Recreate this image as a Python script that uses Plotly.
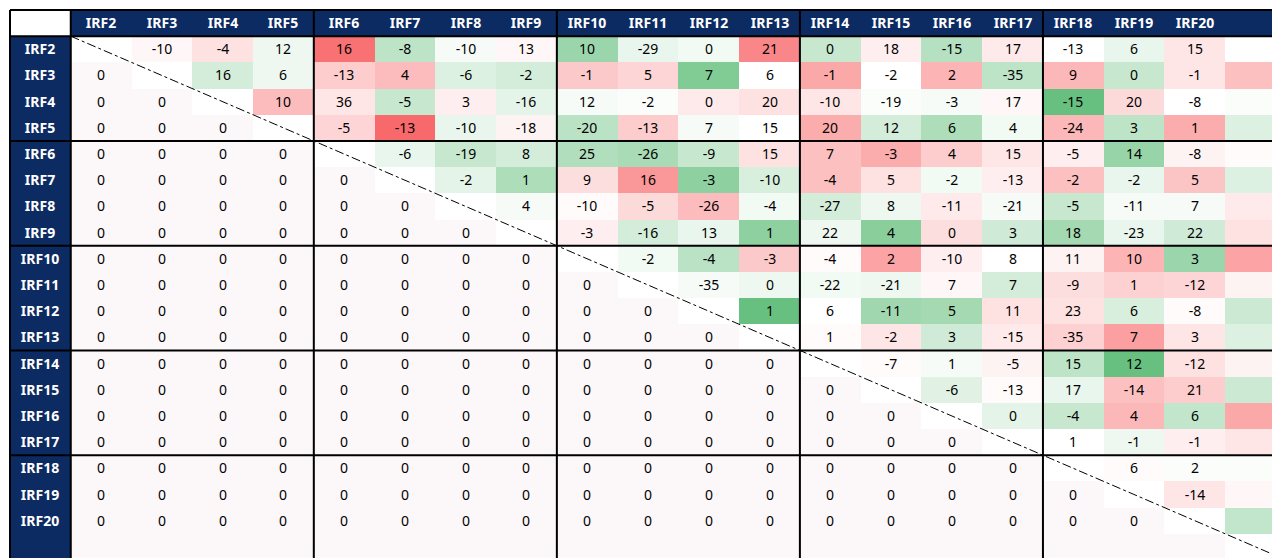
import plotly.graph_objects as go

names = [f"IRF{i}" for i in range(1, 21)]

# upper-triangle values, row i holds columns i+1..20
upper = [
    [2, 7, -4, 34, -15, -2, 2, -23, -5, -3, 29, -13, 4, -17, 5, 0, -5, 6, 0],
    [-10, -4, 12, 16, -8, -10, 13, 10, -29, 0, 21, 0, 18, -15, 17, -13, 6, 15],
    [16, 6, -13, 4, -6, -2, -1, 5, 7, 6, -1, -2, 2, -35, 9, 0, -1],
    [10, 36, -5, 3, -16, 12, -2, 0, 20, -10, -19, -3, 17, -15, 20, -8],
    [-5, -13, -10, -18, -20, -13, 7, 15, 20, 12, 6, 4, -24, 3, 1],
    [-6, -19, 8, 25, -26, -9, 15, 7, -3, 4, 15, -5, 14, -8],
    [-2, 1, 9, 16, -3, -10, -4, 5, -2, -13, -2, -2, 5],
    [4, -10, -5, -26, -4, -27, 8, -11, -21, -5, -11, 7],
    [-3, -16, 13, 1, 22, 4, 0, 3, 18, -23, 22],
    [-2, -4, -3, -4, 2, -10, 8, 11, 10, 3],
    [-35, 0, -22, -21, 7, 7, -9, 1, -12],
    [1, 6, -11, 5, 11, 23, 6, -8],
    [1, -2, 3, -15, -35, 7, 3],
    [-7, 1, -5, 15, 12, -12],
    [-6, -13, 17, -14, 21],
    [0, -4, 4, 6],
    [1, -1, -1],
    [6, 2],
    [-14],
]

n = len(names)
zu = [[None] * n for _ in range(n)]
tu = [[""] * n for _ in range(n)]
zl = [[None] * n for _ in range(n)]
tl = [[""] * n for _ in range(n)]
for i, row in enumerate(upper):
    for k, v in enumerate(row):
        zu[i][i + 1 + k] = v
        tu[i][i + 1 + k] = str(v)
for i in range(n):
    for j in range(i):
        zl[i][j] = 0
        tl[i][j] = "0"

font = dict(family="Noto Sans", size=14, color="black")
fig = go.Figure()
fig.add_trace(go.Heatmap(
    x=names, y=names, z=zl, text=tl, colorscale=[[0, "#FCF7F9"], [1, "#FCF7F9"]],
    showscale=False, texttemplate="%{text}", textfont=font, hoverinfo="skip"))
fig.add_trace(go.Heatmap(
    x=names, y=names, z=zu, text=tu, zmin=-36, zmax=36, zmid=0,
    colorscale=[[0, "#63BE7B"], [0.5, "#FFFFFF"], [1, "#F8696B"]],
    showscale=False, texttemplate="%{text}", textfont=font))

navy = "#0D2B63"
hfont = dict(family="Noto Sans", size=14, color="white", weight="bold")
fig.add_trace(go.Heatmap(
    x=names, y=["hdr"], z=[[1] * n], text=[names], texttemplate="%{text}",
    colorscale=[[0, navy], [1, navy]], showscale=False, textfont=hfont, hoverinfo="skip"))
fig.add_trace(go.Heatmap(
    x=["hdr"], y=names, z=[[1] for _ in names], text=[[s] for s in names], texttemplate="%{text}",
    colorscale=[[0, navy], [1, navy]], showscale=False, textfont=hfont, hoverinfo="skip"))

cats = ["hdr"] + names
shapes = []
# thick block borders
for b in range(0, n + 1, 4):
    shapes.append(dict(type="line", xref="x", yref="paper", x0=b + 0.5, x1=b + 0.5, y0=0, y1=1,
                       line=dict(color="black", width=2)))
    shapes.append(dict(type="line", xref="paper", yref="y", y0=b + 0.5, y1=b + 0.5, x0=0, x1=1,
                       line=dict(color="black", width=2)))
for p in (0, 1):
    shapes.append(dict(type="line", xref="paper", yref="paper", x0=0, x1=1, y0=p, y1=p,
                       line=dict(color="black", width=2)))
    shapes.append(dict(type="line", xref="paper", yref="paper", x0=p, x1=p, y0=0, y1=1,
                       line=dict(color="black", width=2)))
shapes.append(dict(type="line", xref="x", yref="y", x0=0.5, y0=0.5, x1=n + 0.5, y1=n + 0.5,
                   line=dict(color="black", width=1, dash="dashdot")))

fig.update_layout(
    width=1280, height=558, margin=dict(l=2, r=2, t=2, b=6),
    plot_bgcolor="white", paper_bgcolor="white", shapes=shapes,
    xaxis=dict(type="category", categoryorder="array", categoryarray=cats, showticklabels=False,
               showgrid=False, zeroline=False, range=[-0.5, n + 0.5]),
    yaxis=dict(type="category", categoryorder="array", categoryarray=cats, showticklabels=False,
               showgrid=False, zeroline=False, range=[n + 0.5, -0.5]),
)
fig.write_html("out.html")
